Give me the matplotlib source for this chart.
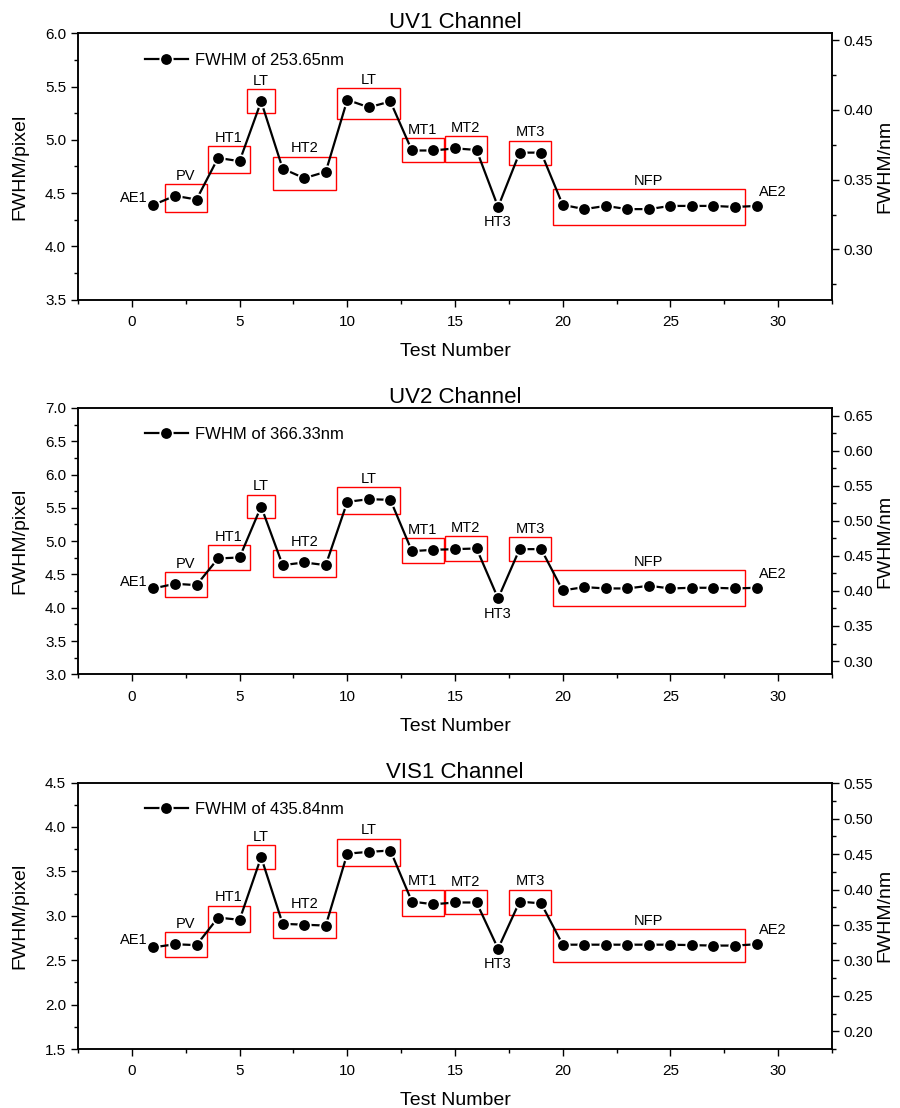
import numpy as np
import matplotlib
matplotlib.use("Agg")
import matplotlib.pyplot as plt
from matplotlib.patches import Rectangle
from matplotlib.ticker import MultipleLocator

plt.rcParams['font.family'] = ['Liberation Sans', 'DejaVu Sans']

tests = np.arange(1, 30)

uv1 = [4.39, 4.475, 4.44, 4.83, 4.80, 5.36, 4.73, 4.64, 4.70, 5.375, 5.305, 5.36, 4.90, 4.90,
       4.92, 4.905, 4.37, 4.88, 4.88, 4.39, 4.35, 4.38, 4.35, 4.35, 4.38, 4.38, 4.38, 4.37, 4.38]
uv2 = [4.29, 4.36, 4.34, 4.74, 4.755, 5.52, 4.64, 4.68, 4.64, 5.59, 5.63, 5.62, 4.85, 4.87,
       4.88, 4.89, 4.14, 4.88, 4.88, 4.26, 4.31, 4.29, 4.29, 4.33, 4.29, 4.30, 4.30, 4.29, 4.30]
vis1 = [2.645, 2.68, 2.67, 2.98, 2.955, 3.66, 2.91, 2.90, 2.89, 3.70, 3.72, 3.735, 3.16, 3.13,
        3.15, 3.15, 2.63, 3.16, 3.14, 2.675, 2.675, 2.675, 2.675, 2.675, 2.675, 2.67, 2.665, 2.665, 2.68]

channels = ['UV1 Channel', 'UV2 Channel', 'VIS1 Channel']
legend_labels = ['FWHM of 253.65nm', 'FWHM of 366.33nm', 'FWHM of 435.84nm']
series = [uv1, uv2, vis1]
left_lims = [(3.5, 6.0), (3.0, 7.0), (1.5, 4.5)]
right_lims = [(0.264, 0.455), (0.281, 0.661), (0.175, 0.551)]

group_names = ['PV', 'HT1', 'LT', 'HT2', 'LT', 'MT1', 'MT2', 'MT3', 'NFP']
group_start = [2, 4, 6, 7, 10, 13, 15, 18, 20]
group_end = [3, 5, 6, 9, 12, 14, 16, 19, 28]

fig, axes = plt.subplots(3, 1, figsize=(9, 11.08), dpi=100)
fig.subplots_adjust(left=0.0867, right=0.9244, top=0.970, bottom=0.0532, hspace=0.406)

for ax, name, lab, vals, ylim, rlim in zip(axes, channels, legend_labels, series, left_lims, right_lims):
    vals = np.array(vals)
    ax.plot(tests, vals, '-o', color='black', lw=1.6, ms=9, mfc='black', mec='white', mew=1.2,
            label=lab, zorder=3)
    ax.set_xlim(-2.5, 32.5)
    ax.set_ylim(*ylim)
    ax.xaxis.set_major_locator(MultipleLocator(5))
    ax.xaxis.set_minor_locator(MultipleLocator(2.5))
    ax.yaxis.set_major_locator(MultipleLocator(0.5))
    ax.yaxis.set_minor_locator(MultipleLocator(0.25))
    ax.tick_params(which='both', direction='out', top=False, right=False, labelsize=11, width=1)
    ax.tick_params(which='major', length=5)
    ax.tick_params(which='minor', length=3)
    ax.tick_params(axis='x', pad=6)
    ax.set_xlabel('Test Number', fontsize=14, labelpad=10)
    ax.set_ylabel('FWHM/pixel', fontsize=14, labelpad=12)
    ax.set_title(name, fontsize=16, pad=3)
    for s in ax.spines.values():
        s.set_linewidth(1.1)

    yr = ylim[1] - ylim[0]
    for g, a, b in zip(group_names, group_start, group_end):
        seg = vals[a - 1:b]
        pad = 0.06 * yr if g == 'NFP' else 0.045 * yr
        xp = 0.65 if a == b else 0.47
        x0, x1 = a - xp, b + xp
        y0, y1 = seg.min() - pad, seg.max() + pad
        ax.add_patch(Rectangle((x0, y0), x1 - x0, y1 - y0, fill=False, ec='red', lw=1.0, zorder=2))
        ax.annotate(g, ((x0 + x1) / 2, y1), xytext=(0, 3), textcoords='offset points',
                    ha='center', va='baseline', fontsize=10.5)

    ax.annotate('AE1', (tests[0], vals[0]), xytext=(-4, 5), textcoords='offset points',
                ha='right', va='center', fontsize=10.5)
    ax.annotate('HT3', (tests[16], vals[16]), xytext=(0, -11), textcoords='offset points',
                ha='center', va='center', fontsize=10.5)
    ax.annotate('AE2', (tests[28], vals[28]), xytext=(2, 10), textcoords='offset points',
                ha='left', va='center', fontsize=10.5)

    ax.legend(loc='upper left', bbox_to_anchor=(0.075, 0.965), frameon=False, fontsize=12,
              handlelength=2.6, handletextpad=0.4, borderaxespad=0.2)

    ax2 = ax.twinx()
    ax2.set_ylim(*rlim)
    ax2.yaxis.set_major_locator(MultipleLocator(0.05))
    ax2.yaxis.set_minor_locator(MultipleLocator(0.025))
    ax2.yaxis.set_major_formatter(matplotlib.ticker.FormatStrFormatter('%.2f'))
    ax2.tick_params(which='both', direction='out', labelsize=11, width=1)
    ax2.tick_params(which='major', length=5)
    ax2.tick_params(which='minor', length=3)
    ax2.set_ylabel('FWHM/nm', fontsize=14, rotation=90, labelpad=2)
    for s in ax2.spines.values():
        s.set_linewidth(1.1)

fig.savefig('out.png', dpi=100)
